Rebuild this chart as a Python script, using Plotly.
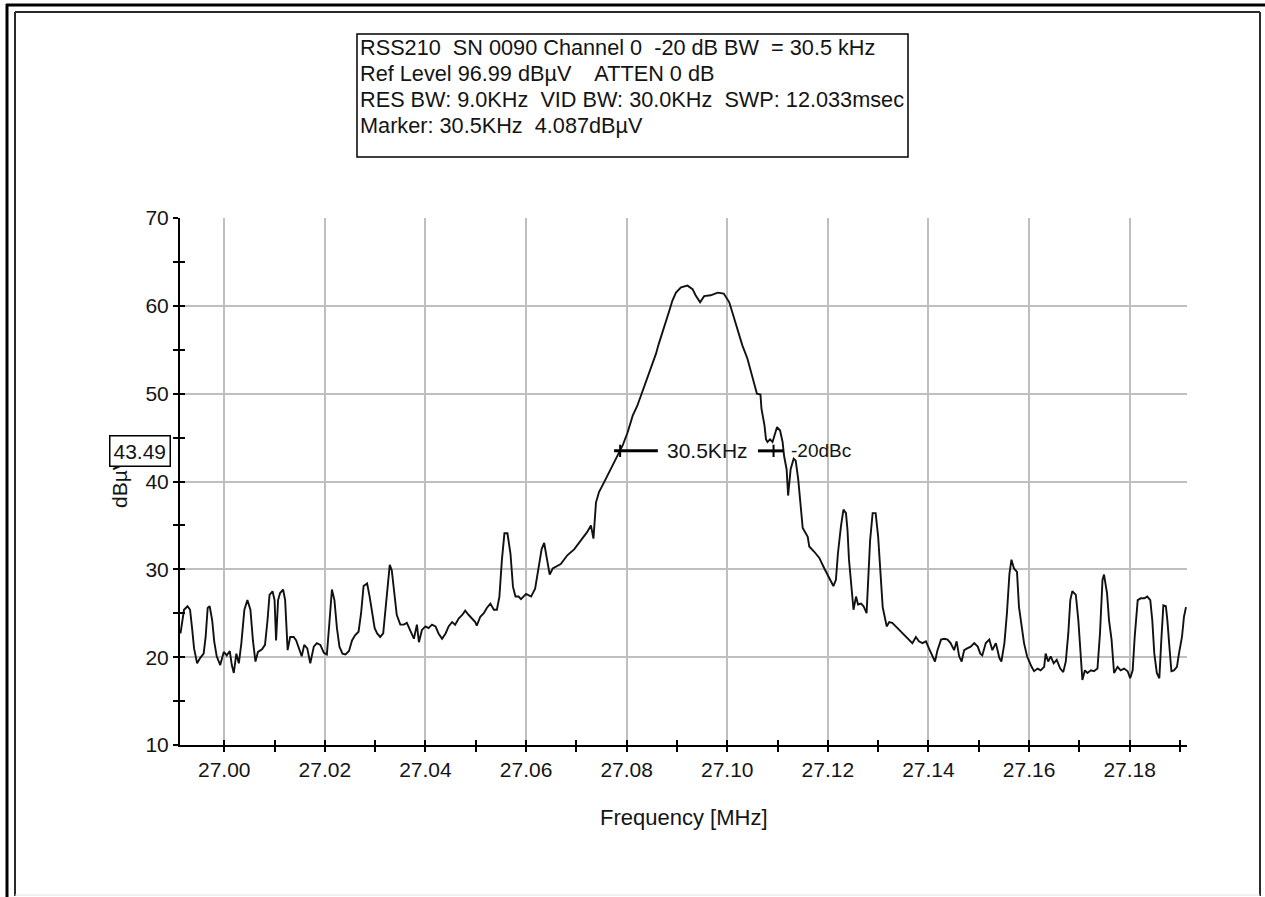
import plotly.graph_objects as go

# ---------------- data ----------------
freq_mhz = [
    26.9913, 26.9920, 26.9927, 26.9932, 26.9936, 26.9940, 26.9946, 26.9952, 26.9959, 26.9963, 26.9967, 26.9971, 26.9976, 26.9980, 26.9985, 26.9992, 26.9999,
    27.0005, 27.0011, 27.0015, 27.0019, 27.0024, 27.0029, 27.0034, 27.0040, 27.0046, 27.0052, 27.0057, 27.0062, 27.0067, 27.0075, 27.0081, 27.0086, 27.0090, 27.0096, 27.0100, 27.0103, 27.0107, 27.0111, 27.0117, 27.0121, 27.0126, 27.0131, 27.0138, 27.0143, 27.0148, 27.0154, 27.0159, 27.0165, 27.0171, 27.0178, 27.0184, 27.0191, 27.0198,
    27.0204, 27.0209, 27.0214, 27.0219, 27.0224, 27.0229, 27.0235, 27.0241, 27.0248, 27.0254, 27.0260, 27.0267, 27.0272, 27.0277, 27.0284, 27.0289, 27.0294, 27.0299, 27.0304, 27.0310, 27.0316, 27.0320, 27.0325, 27.0329, 27.0333, 27.0338, 27.0343, 27.0350, 27.0357, 27.0363, 27.0370, 27.0377, 27.0383, 27.0387, 27.0393,
    27.0400, 27.0406, 27.0413, 27.0420, 27.0426, 27.0433, 27.0440, 27.0446, 27.0453, 27.0459, 27.0466, 27.0473, 27.0479, 27.0486, 27.0493, 27.0499, 27.0502, 27.0509, 27.0516, 27.0522, 27.0529, 27.0536, 27.0542, 27.0547, 27.0552, 27.0557, 27.0563, 27.0569, 27.0574, 27.0579, 27.0585,
    27.0590, 27.0600, 27.0610, 27.0618, 27.0625, 27.0631, 27.0636, 27.0641, 27.0647, 27.0653, 27.0660, 27.0669, 27.0682, 27.0696, 27.0709, 27.0721, 27.0729, 27.0734, 27.0739, 27.0745, 27.0755, 27.0765, 27.0778, 27.0792,
    27.0802, 27.0812, 27.0821, 27.0831, 27.0841, 27.0851, 27.0858, 27.0864, 27.0874, 27.0884, 27.0891, 27.0898, 27.0908, 27.0921, 27.0931, 27.0937, 27.0946, 27.0954, 27.0967, 27.0981, 27.0993,
    27.1004, 27.1012, 27.1020, 27.1030, 27.1040, 27.1048, 27.1055, 27.1059, 27.1066, 27.1068, 27.1074, 27.1077, 27.1080, 27.1085, 27.1090, 27.1095, 27.1099, 27.1105, 27.1110, 27.1113, 27.1118, 27.1121, 27.1126, 27.1132, 27.1136, 27.1141, 27.1146,
    27.1150, 27.1160, 27.1163, 27.1173, 27.1183, 27.1193, 27.1203, 27.1211, 27.1216, 27.1220, 27.1226, 27.1231, 27.1236, 27.1239, 27.1242, 27.1247, 27.1251, 27.1256, 27.1260, 27.1266, 27.1271, 27.1277, 27.1280, 27.1284, 27.1289, 27.1295,
    27.1300, 27.1304, 27.1309, 27.1313, 27.1317, 27.1322, 27.1328, 27.1335, 27.1342, 27.1348, 27.1355, 27.1362, 27.1368, 27.1375, 27.1381, 27.1388, 27.1395,
    27.1401, 27.1408, 27.1413, 27.1418, 27.1425, 27.1431, 27.1438, 27.1444, 27.1451, 27.1456, 27.1461, 27.1466, 27.1471, 27.1477, 27.1484, 27.1491, 27.1498,
    27.1503, 27.1507, 27.1514, 27.1521, 27.1527, 27.1534, 27.1541, 27.1545, 27.1551, 27.1556, 27.1561, 27.1565, 27.1570, 27.1576, 27.1580, 27.1585, 27.1590, 27.1596,
    27.1600, 27.1605, 27.1610, 27.1617, 27.1623, 27.1630, 27.1633, 27.1638, 27.1643, 27.1649, 27.1655, 27.1662, 27.1668, 27.1673, 27.1678, 27.1682, 27.1686, 27.1693, 27.1698,
    27.1702, 27.1706, 27.1711, 27.1716, 27.1723, 27.1729, 27.1736, 27.1741, 27.1746, 27.1749, 27.1755, 27.1759, 27.1764, 27.1769, 27.1776, 27.1782, 27.1789, 27.1796,
    27.1801, 27.1806, 27.1810, 27.1816, 27.1822, 27.1829, 27.1835, 27.1841, 27.1845, 27.1849, 27.1854, 27.1859, 27.1863, 27.1867, 27.1872, 27.1875, 27.1879, 27.1883, 27.1888, 27.1894, 27.1898,
    27.1904, 27.1908, 27.1912,
]

level_dbuv = [
    22.7, 25.4, 25.8, 25.4, 23.3, 21.0, 19.3, 19.9, 20.4, 22.3, 25.6, 25.8, 24.2, 21.8, 20.1, 19.1, 20.6,
    20.2, 20.7, 19.1, 18.2, 20.4, 19.3, 21.6, 25.4, 26.5, 25.4, 21.9, 19.5, 20.6, 20.9, 21.4, 24.2, 27.1, 27.5, 26.5, 21.9, 26.5, 27.3, 27.7, 26.5, 20.8, 22.3, 22.3, 21.9, 21.0, 20.1, 21.4, 21.0, 19.3, 21.2, 21.6, 21.4, 20.5,
    20.3, 23.9, 27.7, 26.5, 23.3, 21.2, 20.4, 20.3, 20.7, 21.9, 22.5, 22.9, 25.0, 28.1, 28.4, 26.9, 24.8, 23.3, 22.7, 22.3, 22.7, 25.0, 28.4, 30.5, 29.9, 26.9, 24.8, 23.7, 23.7, 23.9, 22.9, 22.1, 23.7, 21.7, 23.1,
    23.5, 23.3, 23.7, 23.5, 22.7, 22.1, 22.7, 23.5, 24.0, 23.7, 24.4, 24.8, 25.3, 24.8, 24.4, 24.0, 23.6, 24.6, 25.0, 25.6, 26.1, 25.4, 25.4, 26.9, 31.1, 34.1, 34.1, 31.8, 28.0, 26.9, 26.9,
    26.6, 27.2, 26.9, 27.8, 30.0, 32.3, 33.0, 31.5, 29.4, 30.1, 30.3, 30.6, 31.6, 32.3, 33.3, 34.2, 35.0, 33.5, 37.6, 38.8, 39.9, 41.0, 42.4, 44.1,
    45.6, 47.5, 48.6, 50.2, 51.7, 53.2, 54.5, 55.7, 57.4, 59.3, 60.6, 61.5, 62.1, 62.3, 61.9, 61.2, 60.4, 61.1, 61.2, 61.5, 61.4,
    60.4, 58.9, 57.4, 55.5, 54.0, 52.4, 50.9, 50.0, 49.9, 48.3, 46.4, 44.8, 44.5, 44.8, 44.5, 45.6, 46.2, 45.8, 44.5, 42.9, 41.4, 38.4, 41.4, 42.6, 42.4, 40.3, 37.1,
    34.7, 33.7, 32.6, 32.0, 31.3, 30.1, 29.0, 28.1, 28.8, 31.8, 34.9, 36.8, 36.4, 34.5, 31.1, 28.0, 25.4, 26.9, 26.0, 26.1, 25.8, 25.0, 28.0, 33.3, 36.4, 36.4,
    33.7, 30.3, 25.7, 24.6, 23.5, 24.0, 23.9, 23.5, 23.1, 22.7, 22.3, 22.0, 21.6, 22.3, 21.8, 21.6, 21.8,
    21.0, 20.1, 19.5, 20.8, 22.0, 22.1, 22.0, 21.6, 20.8, 21.8, 20.1, 19.5, 20.8, 21.0, 21.2, 21.6, 21.2,
    20.4, 20.2, 21.6, 22.0, 20.8, 21.6, 19.9, 19.5, 21.6, 25.0, 29.5, 31.1, 30.1, 29.7, 25.7, 23.5, 21.6, 20.1,
    19.5, 18.9, 18.4, 18.7, 18.5, 18.9, 20.4, 19.5, 20.1, 19.3, 19.7, 18.7, 18.3, 19.5, 22.7, 26.5, 27.5, 27.1, 24.2,
    20.4, 17.4, 18.5, 18.2, 18.5, 18.4, 18.7, 22.7, 28.8, 29.4, 27.3, 24.2, 22.0, 18.2, 18.9, 18.5, 18.7, 18.4,
    17.6, 18.5, 22.3, 26.5, 26.7, 26.7, 26.9, 26.5, 24.2, 20.4, 18.2, 17.6, 22.0, 25.9, 25.8, 24.2, 21.2, 18.4, 18.5, 18.9, 20.4,
    22.3, 24.6, 25.7,
]

x_range = [26.9912, 27.1914]
y_range = [10, 70]
x_tick_step = 0.02
y_tick_step = 10

header_lines = [
    "RSS210  SN 0090 Channel 0  -20 dB BW  = 30.5 kHz",
    "Ref Level 96.99 dB\u00b5V    ATTEN 0 dB",
    "RES BW: 9.0KHz  VID BW: 30.0KHz  SWP: 12.033msec",
    "Marker: 30.5KHz  4.087dB\u00b5V",
]

marker_level = 43.49
marker_left = 27.0787
marker_right = 27.1092
marker_bw_label = "30.5KHz"
marker_ref_label = "-20dBc"
x_title = "Frequency [MHz]"
y_title = "dB\u00b5V"

assert len(freq_mhz) == len(level_dbuv)

# ---------------- layout helpers (pixel -> paper) ----------------
W, H = 1265, 897
ML, MR, MT, MB = 180, 78, 218, 152
PW, PH = W - ML - MR, H - MT - MB


def px(xp):
    return (xp - ML) / PW


def py(yp):
    return (H - MB - yp) / PH


FONT = "Arial, 'Liberation Sans', sans-serif"
INK = "#141414"

fig = go.Figure()
fig.add_trace(go.Scatter(x=freq_mhz, y=level_dbuv, mode="lines",
                         line=dict(color="#111111", width=1.9),
                         hoverinfo="skip", showlegend=False))
# overlay axes for the inner half of the crossing tick marks
fig.add_trace(go.Scatter(x=[], y=[], xaxis="x2", yaxis="y2", showlegend=False))

axis_common = dict(showline=True, linecolor="black", linewidth=2,
                   ticks="outside", ticklen=5, tickwidth=1.5, tickcolor="black",
                   showgrid=True, gridcolor="#bfbfbf", gridwidth=1.5,
                   zeroline=False)

fig.update_layout(
    width=W, height=H,
    margin=dict(l=ML, r=MR, t=MT, b=MB, pad=0),
    paper_bgcolor="white", plot_bgcolor="white",
    showlegend=False,
    xaxis=dict(range=x_range, dtick=x_tick_step, tick0=27.0, tickformat=".2f",
               tickfont=dict(family=FONT, size=21, color=INK),
               minor=dict(dtick=0.01, tick0=27.0, ticks="outside", ticklen=5,
                          tickwidth=1.5, tickcolor="black", showgrid=False),
               **axis_common),
    yaxis=dict(range=y_range, dtick=y_tick_step, tick0=10,
               tickfont=dict(family=FONT, size=21, color=INK),
               minor=dict(dtick=5, tick0=10, ticks="outside", ticklen=5,
                          tickwidth=1.5, tickcolor="black", showgrid=False),
               **axis_common),
    xaxis2=dict(overlaying="x", anchor="y2", side="bottom", range=x_range,
                dtick=0.01, tick0=27.0, ticks="inside", ticklen=5, tickwidth=1.5,
                tickcolor="black", showticklabels=False, showgrid=False,
                showline=False, zeroline=False),
    yaxis2=dict(overlaying="y", anchor="x2", side="left", range=y_range,
                dtick=5, tick0=10, ticks="inside", ticklen=5, tickwidth=1.5,
                tickcolor="black", showticklabels=False, showgrid=False,
                showline=False, zeroline=False),
)

shapes = []
# outer black frame (top and left)
shapes.append(dict(type="line", xref="paper", yref="paper", x0=px(6), x1=px(1266),
                   y0=py(5), y1=py(5), line=dict(color="black", width=3)))
shapes.append(dict(type="line", xref="paper", yref="paper", x0=px(7), x1=px(7),
                   y0=py(4), y1=py(898), line=dict(color="black", width=3)))
# inner frame
shapes.append(dict(type="line", xref="paper", yref="paper", x0=px(15), x1=px(1260),
                   y0=py(12), y1=py(12), line=dict(color="#2a2a2a", width=2)))
shapes.append(dict(type="line", xref="paper", yref="paper", x0=px(15), x1=px(15),
                   y0=py(12), y1=py(896), line=dict(color="#2a2a2a", width=2)))
shapes.append(dict(type="line", xref="paper", yref="paper", x0=px(1260), x1=px(1260),
                   y0=py(12), y1=py(896), line=dict(color="#2a2a2a", width=2)))
shapes.append(dict(type="line", xref="paper", yref="paper", x0=px(15), x1=px(1260),
                   y0=py(895), y1=py(895), line=dict(color="#e0e0e0", width=1)))
# header box
shapes.append(dict(type="rect", xref="paper", yref="paper", x0=px(357), x1=px(908),
                   y0=py(157), y1=py(34), line=dict(color="black", width=1.5),
                   fillcolor="white"))
# marker bars and ticks
shapes.append(dict(type="line", xref="x", yref="y", x0=27.0775, x1=27.0862,
                   y0=marker_level, y1=marker_level, line=dict(color="black", width=3)))
shapes.append(dict(type="line", xref="x", yref="y", x0=27.1061, x1=27.1112,
                   y0=marker_level, y1=marker_level, line=dict(color="black", width=3)))
for mx in (marker_left, marker_right):
    shapes.append(dict(type="line", xref="x", yref="y", x0=mx, x1=mx,
                       y0=marker_level - 0.7, y1=marker_level + 0.7,
                       line=dict(color="black", width=2)))

annotations = []
for i, line in enumerate(header_lines):
    annotations.append(dict(xref="paper", yref="paper", x=px(358), y=py(47 + 26.3 * i),
                            xanchor="left", yanchor="middle", showarrow=False,
                            text=line, font=dict(family=FONT, size=21.7, color=INK)))
annotations.append(dict(xref="paper", yref="paper", x=0.5, y=py(817),
                        xanchor="center", yanchor="middle", showarrow=False,
                        text=x_title, font=dict(family=FONT, size=22, color=INK)))
annotations.append(dict(xref="paper", yref="paper", x=px(119), y=py(482),
                        xanchor="center", yanchor="middle", showarrow=False, textangle=-90,
                        text=y_title, font=dict(family=FONT, size=21, color=INK)))
annotations.append(dict(xref="paper", yref="y", x=px(140), y=marker_level,
                        xanchor="center", yanchor="middle", showarrow=False,
                        text=f"{marker_level:.2f}", bgcolor="white", bordercolor="black",
                        borderwidth=1.5, borderpad=3,
                        font=dict(family=FONT, size=21, color=INK)))
annotations.append(dict(xref="x", yref="y", x=27.0961, y=marker_level,
                        xanchor="center", yanchor="middle", showarrow=False,
                        text=marker_bw_label, font=dict(family=FONT, size=21, color=INK)))
annotations.append(dict(xref="x", yref="y", x=27.1122, y=marker_level,
                        xanchor="left", yanchor="middle", showarrow=False,
                        text=marker_ref_label, font=dict(family=FONT, size=19, color=INK)))

fig.update_layout(shapes=shapes, annotations=annotations)

fig.write_html("out.html", config={"displayModeBar": False},
               post_script="document.body.style.margin='0';document.body.style.overflow='hidden';")
